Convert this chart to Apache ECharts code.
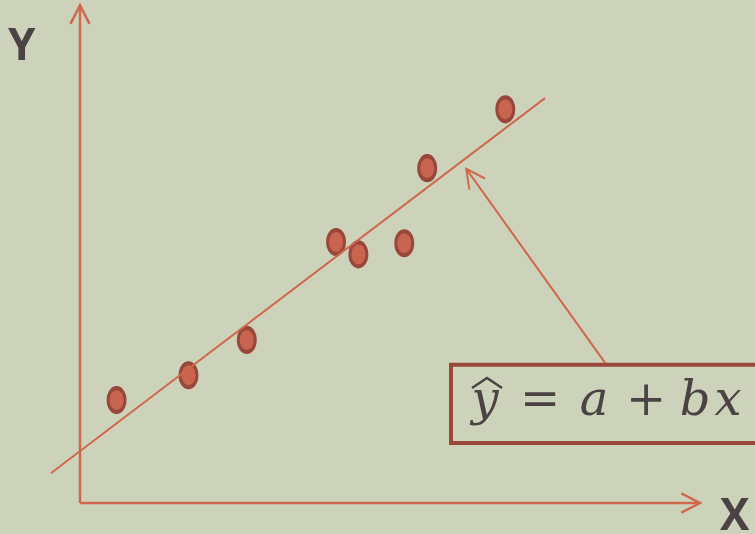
<!DOCTYPE html>
<html>
<head>
<meta charset="utf-8">
<style>
  html, body { margin: 0; padding: 0; background: #cdd3bb; }
  #chart { width: 755px; height: 534px; }
</style>
<script src="https://cdn.jsdelivr.net/npm/echarts@6/dist/echarts.min.js"></script>
</head>
<body>
<div id="chart"></div>
<script>
// Observations (x, y) in plot units
const pointX = [0.59, 1.75, 2.69, 4.13, 4.49, 5.23, 5.60, 6.86];
const pointY = [1.66, 2.06, 2.63, 4.21, 4.01, 4.19, 5.40, 6.35];

// Fitted regression line, given by its two end points
const fitX = [-0.47, 7.50];
const fitY = [0.48, 6.53];

// Arrows: [fromX, fromY, toX, toY, lineWidth]
const axisArrows = [
  [0, 0, 10, 0, 2.5],     // X axis
  [0, 0, 0, 8.03, 2.5]    // Y axis
];
const calloutArrow = [[8.47, 2.26, 6.23, 5.39, 2]];

// Text
const axisNameX = 'X';
const axisNameY = 'Y';
const formulaGlyphs = ['y', '=', 'a', '+', 'b', 'x'];

const ORANGE = '#d0684e';
const DARK = '#98473a';
const INK = '#4b4343';

const chart = echarts.init(document.getElementById('chart'));

function arrowRenderer(params, api) {
  const p0 = api.coord([api.value(0), api.value(1)]);
  const p1 = api.coord([api.value(2), api.value(3)]);
  const lw = api.value(4);
  const dx = p1[0] - p0[0], dy = p1[1] - p0[1];
  const len = Math.hypot(dx, dy);
  const ux = dx / len, uy = dy / len;
  const head = 21, ang = 27 * Math.PI / 180;
  const wing = (a) => {
    const c = Math.cos(a), s = Math.sin(a);
    const rx = ux * c - uy * s, ry = ux * s + uy * c;
    return [p1[0] - head * rx, p1[1] - head * ry];
  };
  return {
    type: 'group',
    children: [
      { type: 'line', shape: { x1: p0[0], y1: p0[1], x2: p1[0], y2: p1[1] },
        style: { stroke: ORANGE, lineWidth: lw } },
      { type: 'polyline', shape: { points: [wing(ang), p1, wing(-ang)] },
        style: { stroke: ORANGE, lineWidth: lw, fill: null } }
    ]
  };
}

const ellipsePath = 'path://M0,-1C0.552,-1,1,-0.552,1,0C1,0.552,0.552,1,0,1C-0.552,1,-1,0.552,-1,0C-1,-0.552,-0.552,-1,0,-1Z';

// Formula glyph centres (px) inside the boxed annotation
const glyphCx = [485, 540, 594, 646, 695, 728];
const formulaSize = 48;

const graphics = [
  { type: 'text', left: 8, top: 25,
    style: { text: axisNameY, font: 'bold 44px "Open Sans"', fill: INK } },
  { type: 'text', left: 720, top: 495,
    style: { text: axisNameX, font: 'bold 44px "Open Sans"', fill: INK } },
  { type: 'rect', shape: { x: 451, y: 364.7, width: 330, height: 78.3 },
    style: { fill: 'none', stroke: DARK, lineWidth: 4 } },
  { type: 'polyline', shape: { points: [[472, 388], [487, 378], [502, 388]] },
    style: { stroke: INK, lineWidth: 2.5, fill: null } }
];
formulaGlyphs.forEach((g, i) => {
  const upright = (g === '=' || g === '+');
  graphics.push({
    type: 'text', x: glyphCx[i], y: 379,
    style: {
      text: g,
      font: (upright ? '' : 'italic ') + formulaSize + 'px "DejaVu Serif"',
      fill: INK, textAlign: 'center', textVerticalAlign: 'top'
    }
  });
});

chart.setOption({
  backgroundColor: '#cdd3bb',
  animation: false,
  grid: { left: 18, top: 7, width: 682, height: 496 },
  xAxis: { type: 'value', min: -1, max: 10, show: false },
  yAxis: { type: 'value', min: 0, max: 8, show: false },
  series: [
    {
      type: 'custom', clip: false, silent: true,
      renderItem: arrowRenderer,
      data: axisArrows.concat(calloutArrow)
    },
    {
      type: 'line', clip: false, silent: true, showSymbol: false,
      lineStyle: { color: ORANGE, width: 2 },
      data: fitX.map((x, i) => [x, fitY[i]])
    },
    {
      type: 'scatter', clip: false, silent: true,
      symbol: ellipsePath, symbolSize: [17, 24],
      itemStyle: { color: '#c9654e', borderColor: DARK, borderWidth: 3.5, opacity: 1 },
      data: pointX.map((x, i) => [x, pointY[i]])
    }
  ],
  graphic: graphics
});
</script>
</body>
</html>
